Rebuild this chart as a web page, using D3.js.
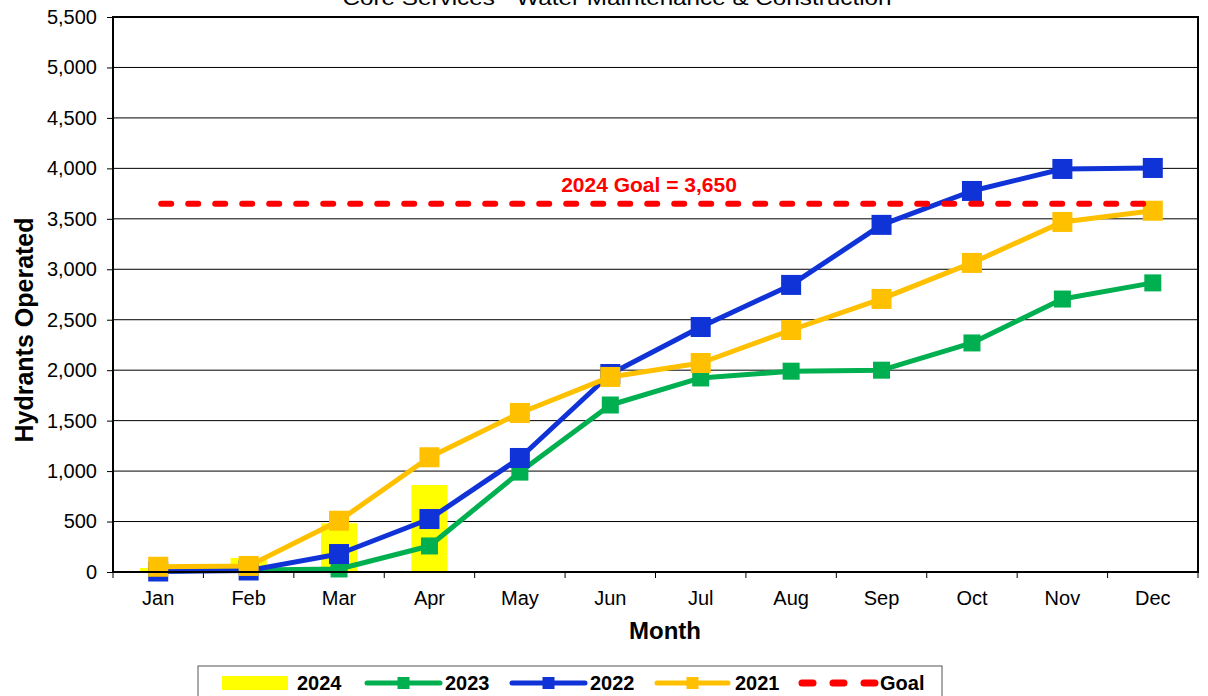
<!DOCTYPE html>
<html>
<head>
<meta charset="utf-8">
<script src="https://cdn.jsdelivr.net/npm/d3@7"></script>
<style>
  html, body { margin: 0; padding: 0; background: #fff; }
  svg { display: block; font-family: "Liberation Sans", Arial, sans-serif; }
</style>
</head>
<body>
<svg id="chart" width="1208" height="696"></svg>
<script>
const months = ["Jan","Feb","Mar","Apr","May","Jun","Jul","Aug","Sep","Oct","Nov","Dec"];
const bars2024 = [40, 140, 483, 862];
const s2023 = [10, 20, 30, 258, 990, 1655, 1923, 1990, 2000, 2270, 2705, 2865];
const s2022 = [5, 15, 178, 525, 1130, 1962, 2428, 2845, 3440, 3776, 3994, 4004];
const s2021 = [52, 60, 508, 1137, 1576, 1933, 2071, 2398, 2706, 3063, 3469, 3580];
const goalValue = 3650;
const yTicks = [0,500,1000,1500,2000,2500,3000,3500,4000,4500,5000,5500];
const titleText = "Core Services - Water Maintenance & Construction";

const svg = d3.select("#chart");
const L = 113, R = 1198, T = 17, B = 572;

const x = d3.scaleBand().domain(months).range([L, R]);
const y = d3.scaleLinear().domain([0, 5500]).range([B, T]);
const cx = m => x(m) + x.bandwidth() / 2;

// title (top partly cut off, as in the reference)
svg.append("text").attr("x", 617).attr("y", 5).attr("text-anchor", "middle")
  .attr("font-size", 21).attr("fill", "#000")
  .attr("textLength", 549).attr("lengthAdjust", "spacingAndGlyphs").text(titleText);

// gridlines
svg.append("g").selectAll("line").data(yTicks.slice(1)).join("line")
  .attr("x1", L).attr("x2", R).attr("y1", d => y(d)).attr("y2", d => y(d))
  .attr("stroke", "#000").attr("stroke-width", 1);

// y axis
const yAxis = d3.axisLeft(y).tickValues(yTicks).tickFormat(d3.format(",")).tickSize(6).tickPadding(10);
const gy = svg.append("g").attr("transform", `translate(${L},0)`).call(yAxis);
gy.select(".domain").remove();
gy.selectAll("text").attr("font-size", 20).attr("fill", "#000").attr("font-family", "Liberation Sans, Arial, sans-serif");
gy.selectAll("line").attr("stroke", "#000");

// x axis
const xAxis = d3.axisBottom(x).tickSize(0).tickPadding(19);
const gx = svg.append("g").attr("transform", `translate(0,${B})`).call(xAxis);
gx.select(".domain").remove();
gx.selectAll("text").attr("font-size", 20).attr("fill", "#000").attr("font-family", "Liberation Sans, Arial, sans-serif");
// x tick marks at band boundaries
const bounds = months.map(m => x(m)).concat([R]);
svg.append("g").selectAll("line").data(bounds).join("line")
  .attr("x1", d => d).attr("x2", d => d).attr("y1", B).attr("y2", B + 6)
  .attr("stroke", "#000").attr("stroke-width", 1);

// bars 2024
const barW = x.bandwidth() * 0.4;
svg.append("g").selectAll("rect").data(bars2024).join("rect")
  .attr("x", (d, i) => cx(months[i]) - barW / 2).attr("width", barW)
  .attr("y", d => y(d)).attr("height", d => B - y(d))
  .attr("fill", "#FFFF00");

// series lines
const line = d3.line().x((d, i) => cx(months[i])).y(d => y(d));
function drawSeries(data, color, msize) {
  const g = svg.append("g");
  g.append("path").datum(data).attr("d", line).attr("fill", "none")
    .attr("stroke", color).attr("stroke-width", 5).attr("stroke-linejoin", "round");
  g.selectAll("rect").data(data).join("rect")
    .attr("x", (d, i) => cx(months[i]) - msize / 2).attr("y", d => y(d) - msize / 2)
    .attr("width", msize).attr("height", msize).attr("fill", color);
}
drawSeries(s2023, "#00B050", 17);
drawSeries(s2022, "#0F33D6", 20);
drawSeries(s2021, "#FFC000", 20);

// goal line
svg.append("line").attr("x1", cx("Jan")).attr("x2", cx("Dec"))
  .attr("y1", y(goalValue)).attr("y2", y(goalValue))
  .attr("stroke", "#FF0000").attr("stroke-width", 6)
  .attr("stroke-dasharray", "10,17").attr("stroke-linecap", "round")
  .attr("transform", "translate(3,0)");
svg.append("text").attr("x", 649).attr("y", 192).attr("text-anchor", "middle")
  .attr("font-size", 21).attr("font-weight", "bold").attr("fill", "#FF0000")
  .text("2024 Goal = " + d3.format(",")(goalValue));

// plot border
svg.append("rect").attr("x", L).attr("y", T).attr("width", R - L).attr("height", B - T)
  .attr("fill", "none").attr("stroke", "#000").attr("stroke-width", 2);

// axis titles
svg.append("text").attr("x", 665).attr("y", 639).attr("text-anchor", "middle")
  .attr("font-size", 24).attr("font-weight", "bold").text("Month");
svg.append("text").attr("transform", "translate(33,330) rotate(-90)").attr("text-anchor", "middle")
  .attr("font-size", 25).attr("font-weight", "bold").text("Hydrants Operated");

// legend
const lg = svg.append("g");
lg.append("rect").attr("x", 198).attr("y", 666).attr("width", 744).attr("height", 40)
  .attr("fill", "#fff").attr("stroke", "#555").attr("stroke-width", 1);
const ly = 683;
const legendItems = [
  {label: "2024", type: "bar", color: "#FFFF00", x0: 222, x1: 288, tx: 297},
  {label: "2023", type: "line", color: "#00B050", x0: 367, x1: 440, tx: 445},
  {label: "2022", type: "line", color: "#0F33D6", x0: 512, x1: 585, tx: 590},
  {label: "2021", type: "line", color: "#FFC000", x0: 657, x1: 728, tx: 735},
  {label: "Goal", type: "dash", color: "#FF0000", x0: 802, x1: 875, tx: 880}
];
legendItems.forEach(it => {
  if (it.type === "bar") {
    lg.append("rect").attr("x", it.x0).attr("y", ly - 7).attr("width", it.x1 - it.x0).attr("height", 14).attr("fill", it.color);
  } else if (it.type === "line") {
    lg.append("line").attr("x1", it.x0).attr("x2", it.x1).attr("y1", ly).attr("y2", ly)
      .attr("stroke", it.color).attr("stroke-width", 5).attr("stroke-linecap", "round");
    const mx = (it.x0 + it.x1) / 2;
    lg.append("rect").attr("x", mx - 6).attr("y", ly - 6).attr("width", 12).attr("height", 12).attr("fill", it.color);
  } else {
    lg.append("line").attr("x1", it.x0).attr("x2", it.x1).attr("y1", ly).attr("y2", ly)
      .attr("stroke", it.color).attr("stroke-width", 7).attr("stroke-linecap", "round")
      .attr("stroke-dasharray", "11,20");
  }
  lg.append("text").attr("x", it.tx).attr("y", ly + 7).attr("font-size", 20).attr("font-weight", "bold")
    .attr("fill", "#000").text(it.label);
});
</script>
</body>
</html>
